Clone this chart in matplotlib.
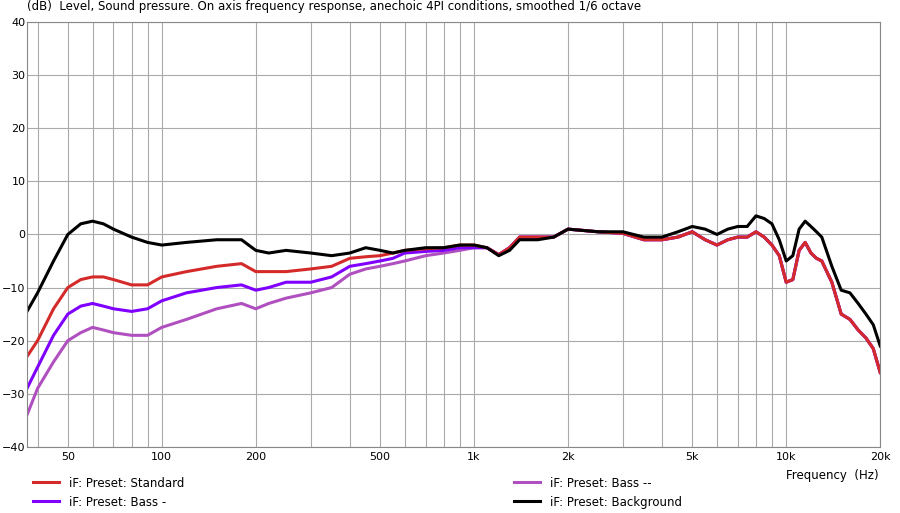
import numpy as np
import matplotlib.pyplot as plt
from matplotlib.ticker import FixedLocator, NullFormatter

# low-frequency part (Hz -> dB), presets differ here
f_low = [37, 40, 45, 50, 55, 60, 65, 70, 80, 90, 100, 120, 150, 180, 200, 220, 250,
         300, 350, 400, 450, 500, 550, 600, 700, 800, 900, 1000]
standard_low = [-23, -20, -14, -10, -8.5, -8, -8, -8.5, -9.5, -9.5, -8, -7, -6, -5.5, -7, -7,
                -7, -6.5, -6, -4.5, -4.2, -4, -3.5, -3, -2.7, -2.5, -2, -2]
bass1_low = [-29, -25, -19, -15, -13.5, -13, -13.5, -14, -14.5, -14, -12.5, -11, -10, -9.5,
             -10.5, -10, -9, -9, -8, -6, -5.5, -5, -4.5, -3.5, -3.2, -3, -2.5, -2.5]
bass2_low = [-34, -29, -24, -20, -18.5, -17.5, -18, -18.5, -19, -19, -17.5, -16, -14, -13,
             -14, -13, -12, -11, -10, -7.5, -6.5, -6, -5.5, -5, -4, -3.5, -3, -2.5]
backgr_low = [-14.5, -11, -5, 0, 2, 2.5, 2, 1, -0.5, -1.5, -2, -1.5, -1, -1, -3, -3.5, -3,
              -3.5, -4, -3.5, -2.5, -3, -3.5, -3, -2.5, -2.5, -2, -2]

# high-frequency part, Standard / Bass - / Bass -- coincide
f_high = [1100, 1200, 1300, 1400, 1600, 1800, 2000, 2500, 3000, 3500, 4000, 4500, 5000,
          5500, 6000, 6500, 7000, 7500, 8000, 8500, 9000, 9500, 10000, 10500, 11000, 11500,
          12000, 12500, 13000, 14000, 15000, 16000, 17000, 18000, 19000, 20000]
presets_high = [-2.5, -3.8, -2.5, -0.5, -0.5, -0.5, 1, 0.5, 0.2, -1, -1, -0.5, 0.5,
                -1, -2, -1, -0.5, -0.5, 0.5, -0.5, -2, -4, -9, -8.5, -3, -1.5,
                -3.5, -4.5, -5, -9, -15, -16, -18, -19.5, -21.5, -26]
backgr_high = [-2.5, -4, -3, -1, -1, -0.5, 1, 0.5, 0.5, -0.5, -0.5, 0.5, 1.5,
               1, 0, 1, 1.5, 1.5, 3.5, 3, 2, -1, -5, -4, 1, 2.5,
               1.5, 0.5, -0.5, -6, -10.5, -11, -13, -15, -17, -21]

tick_vals = [50, 100, 200, 500, 1000, 2000, 5000, 10000, 20000]
tick_labels = ['50', '100', '200', '500', '1k', '2k', '5k', '10k', '20k']

fig = plt.figure(figsize=(9, 5.13), dpi=100)
ax = fig.add_axes([0.03, 0.129, 0.948, 0.828])

f = np.array(f_low + f_high)
series = [
    ('iF: Preset: Standard', standard_low + presets_high, '#d42a2a'),
    ('iF: Preset: Bass -', bass1_low + presets_high, '#8000ff'),
    ('iF: Preset: Bass --', bass2_low + presets_high, '#b050c0'),
    ('iF: Preset: Background', backgr_low + backgr_high, '#000000'),
]
order = [2, 1, 0, 3]
for i in order:
    name, vals, col = series[i]
    ax.plot(f, vals, color=col, lw=2.2, label=name)

ax.set_xscale('log')
ax.set_xlim(37, 20000)
ax.set_ylim(-40, 40)
ax.set_yticks(range(-40, 41, 10))
minor = [m * 10 ** d for d in range(1, 5) for m in range(1, 10) if 37 <= m * 10 ** d <= 20000]
ax.xaxis.set_minor_locator(FixedLocator(minor))
ax.xaxis.set_minor_formatter(NullFormatter())
ax.set_xticks(tick_vals)
ax.set_xticklabels(tick_labels)
ax.grid(True, which='both', axis='x', color='#aaaaaa', lw=0.8)
ax.grid(True, axis='y', color='#aaaaaa', lw=0.8)
ax.tick_params(which='both', length=0, labelsize=8)
ax.tick_params(axis='y', pad=1)
for s in ax.spines.values():
    s.set_color('#888888')

fig.text(0.03, 0.975, '(dB)  Level, Sound pressure. On axis frequency response, anechoic 4PI conditions, smoothed 1/6 octave',
         fontsize=8.5, va='bottom')
fig.text(0.976, 0.066, 'Frequency  (Hz)', fontsize=8.5, ha='right')

handles, labels = ax.get_legend_handles_labels()
lab_map = dict(zip(labels, handles))
leg_order = ['iF: Preset: Standard', 'iF: Preset: Bass -', 'iF: Preset: Bass --', 'iF: Preset: Background']
fig.legend([lab_map[l] for l in leg_order], leg_order, ncol=2, loc='lower left',
           bbox_to_anchor=(0.025, -0.012), frameon=False, fontsize=8.5,
           columnspacing=28, handlelength=2.2)

fig.savefig('out.png', dpi=100)
